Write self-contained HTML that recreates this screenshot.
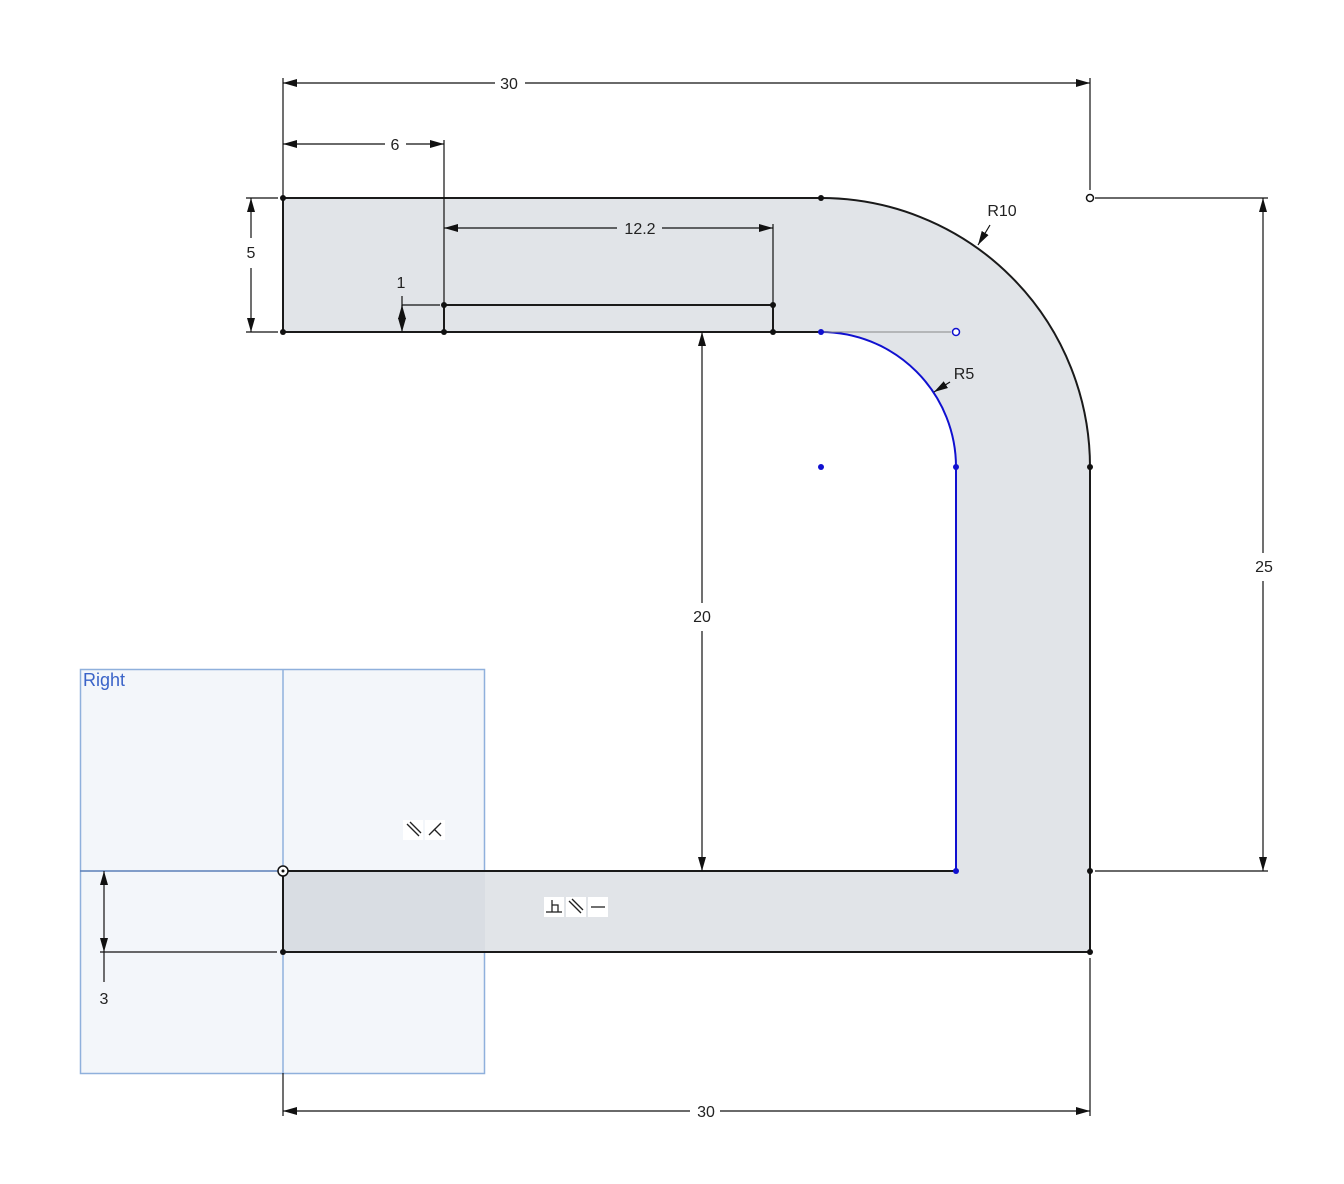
<!DOCTYPE html>
<html><head><style>body{margin:0;background:#fff}svg{display:block}text{font-family:"Liberation Sans",sans-serif;font-size:16px;fill:#222}</style></head><body>
<svg width="1344" height="1184" viewBox="0 0 1344 1184">
<defs>
<marker id="a" viewBox="0 0 14 8" refX="14" refY="4" markerWidth="14" markerHeight="8" markerUnits="userSpaceOnUse" orient="auto-start-reverse"><path d="M0,0L14,4L0,8z" fill="#111"/></marker>
</defs>
<!-- plane -->
<rect x="80.5" y="669.5" width="404" height="404" fill="#f3f6fa" stroke="#8fb0dc" stroke-width="1.5"/>
<text x="83" y="686" style="fill:#3a63c8;font-size:18px">Right</text>
<!-- shape -->
<path d="M283,198 L821,198 A269,269 0 0 1 1090,467 L1090,952 L283,952 L283,871 L956,871 L956,467 A135,135 0 0 0 821,332 L283,332 Z" fill="#e1e4e8"/>
<rect x="283" y="871" width="202" height="81" fill="#d9dde3"/>
<line x1="283" y1="669" x2="283" y2="1073" stroke="#8fb0dc" stroke-width="1.5"/>
<line x1="80" y1="871" x2="283" y2="871" stroke="#5a7fb8" stroke-width="1.5"/>
<g stroke="#1a1a1a" stroke-width="2" fill="none">
<path d="M283,332 L283,198 L821,198 A269,269 0 0 1 1090,467 L1090,952 L283,952 L283,871 L956,871"/>
<path d="M283,332 L821,332"/>
<rect x="444" y="305" width="329" height="27"/>
</g>
<g stroke="#1010d0" stroke-width="2" fill="none"><path d="M956,871 L956,467 A135,135 0 0 0 821,332"/></g>
<line x1="821" y1="332" x2="951" y2="332" stroke="#888" stroke-width="1"/>
<circle cx="956" cy="332" r="3.5" fill="#fff" stroke="#1010d0" stroke-width="1.5"/>
<circle cx="1090" cy="198" r="3.5" fill="#fff" stroke="#111" stroke-width="1.5"/>
<circle cx="283" cy="871" r="5" fill="#fff" stroke="#111" stroke-width="1.5"/><circle cx="283" cy="871" r="1.5" fill="#111"/>
<g fill="#111"><circle cx="283" cy="198" r="3"/><circle cx="821" cy="198" r="3"/><circle cx="283" cy="332" r="3"/><circle cx="444" cy="332" r="3"/><circle cx="773" cy="332" r="3"/><circle cx="444" cy="305" r="3"/><circle cx="773" cy="305" r="3"/><circle cx="1090" cy="467" r="3"/><circle cx="1090" cy="871" r="3"/><circle cx="1090" cy="952" r="3"/><circle cx="283" cy="952" r="3"/></g>
<g fill="#1010d0"><circle cx="821" cy="332" r="3"/><circle cx="821" cy="467" r="3"/><circle cx="956" cy="467" r="3"/><circle cx="956" cy="871" r="3"/></g>
<!-- dimensions -->
<g stroke="#111" stroke-width="1.2" fill="none">
<line x1="283" y1="78" x2="283" y2="198"/><line x1="1090" y1="78" x2="1090" y2="190"/>
<line x1="283" y1="83" x2="495" y2="83" marker-start="url(#a)"/><line x1="525" y1="83" x2="1090" y2="83" marker-end="url(#a)"/>
<line x1="444" y1="140" x2="444" y2="305"/>
<line x1="283" y1="144" x2="385" y2="144" marker-start="url(#a)"/><line x1="406" y1="144" x2="444" y2="144" marker-end="url(#a)"/>
<line x1="773" y1="224" x2="773" y2="305"/>
<line x1="444" y1="228" x2="617" y2="228" marker-start="url(#a)"/><line x1="662" y1="228" x2="773" y2="228" marker-end="url(#a)"/>
<line x1="246" y1="198" x2="278" y2="198"/><line x1="246" y1="332" x2="278" y2="332"/>
<line x1="251" y1="198" x2="251" y2="238" marker-start="url(#a)"/><line x1="251" y1="268" x2="251" y2="332" marker-end="url(#a)"/>
<line x1="402" y1="305" x2="440" y2="305"/>
<line x1="402" y1="296" x2="402" y2="319"/><line x1="402" y1="318" x2="402" y2="305" marker-end="url(#a)"/><line x1="402" y1="318" x2="402" y2="332" marker-end="url(#a)"/>
<line x1="702" y1="332" x2="702" y2="603" marker-start="url(#a)"/><line x1="702" y1="631" x2="702" y2="871" marker-end="url(#a)"/>
<line x1="1095" y1="198" x2="1268" y2="198"/><line x1="1095" y1="871" x2="1268" y2="871"/>
<line x1="1263" y1="198" x2="1263" y2="553" marker-start="url(#a)"/><line x1="1263" y1="581" x2="1263" y2="871" marker-end="url(#a)"/>
<line x1="100" y1="952" x2="277" y2="952"/>
<line x1="104" y1="871" x2="104" y2="912" marker-start="url(#a)"/><line x1="104" y1="912" x2="104" y2="952" marker-end="url(#a)"/><line x1="104" y1="952" x2="104" y2="982"/>
<line x1="1090" y1="958" x2="1090" y2="1116"/><line x1="283" y1="1073" x2="283" y2="1116"/>
<line x1="283" y1="1111" x2="690" y2="1111" marker-start="url(#a)"/><line x1="720" y1="1111" x2="1090" y2="1111" marker-end="url(#a)"/>
<line x1="990" y1="225" x2="978" y2="245" marker-end="url(#a)"/>
<line x1="950" y1="382" x2="934" y2="392" marker-end="url(#a)"/>
</g>
<g text-anchor="middle">
<text x="509" y="89">30</text><text x="395" y="150">6</text><text x="640" y="234">12.2</text>
<text x="251" y="258">5</text><text x="401" y="288">1</text><text x="702" y="622">20</text>
<text x="1264" y="572">25</text><text x="104" y="1004">3</text><text x="706" y="1117">30</text>
<text x="1002" y="216">R10</text><text x="964" y="379">R5</text>
</g>
<!-- constraint icons -->
<g stroke="#222" stroke-width="1.3" fill="none">
<rect x="403" y="820" width="20" height="20" fill="#fff" stroke="none"/><rect x="425" y="820" width="20" height="20" fill="#fff" stroke="none"/>
<line x1="407" y1="824" x2="419" y2="836"/><line x1="410" y1="822" x2="421" y2="833"/>
<line x1="429" y1="835" x2="441" y2="823"/><line x1="434" y1="829" x2="441" y2="836"/>
<rect x="544" y="897" width="20" height="20" fill="#fff" stroke="none"/><rect x="566" y="897" width="20" height="20" fill="#fff" stroke="none"/><rect x="588" y="897" width="20" height="20" fill="#fff" stroke="none"/>
<line x1="546" y1="912" x2="562" y2="912"/><line x1="552" y1="912" x2="552" y2="900"/><path d="M552,905 L558,905 L558,912"/>
<line x1="569" y1="901" x2="581" y2="913"/><line x1="572" y1="899" x2="583" y2="910"/>
<line x1="591" y1="907" x2="605" y2="907"/>
</g>
</svg>
</body></html>
